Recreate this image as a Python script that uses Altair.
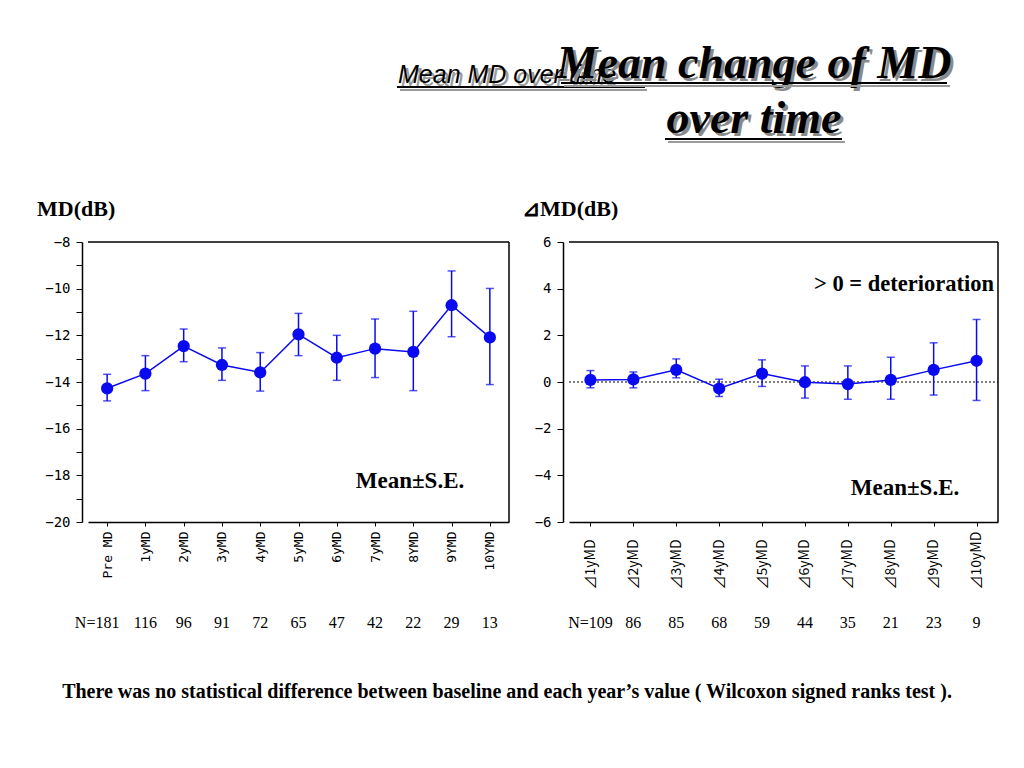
import altair as alt
import pandas as pd

# ---------------- data ----------------
left_cats = ["Pre MD", "1yMD", "2yMD", "3yMD", "4yMD", "5yMD", "6yMD", "7yMD", "8YMD", "9YMD", "10YMD"]
left_mean = [-14.27, -13.64, -12.46, -13.27, -13.59, -11.96, -12.96, -12.57, -12.71, -10.71, -12.09]
left_hi = [-13.67, -12.87, -11.73, -12.54, -12.74, -11.06, -12.00, -11.30, -10.97, -9.24, -9.99]
left_lo = [-14.81, -14.37, -13.13, -13.93, -14.39, -12.87, -13.93, -13.81, -14.37, -12.06, -14.11]
left_n = ["N=181", "116", "96", "91", "72", "65", "47", "42", "22", "29", "13"]

right_cats = ["⊿1yMD", "⊿2yMD", "⊿3yMD", "⊿4yMD", "⊿5yMD", "⊿6yMD", "⊿7yMD", "⊿8yMD", "⊿9yMD", "⊿10yMD"]
right_mean = [0.09, 0.11, 0.52, -0.28, 0.36, -0.01, -0.09, 0.09, 0.52, 0.91]
right_hi = [0.49, 0.43, 0.99, 0.12, 0.95, 0.69, 0.69, 1.06, 1.68, 2.68]
right_lo = [-0.25, -0.25, 0.18, -0.62, -0.19, -0.69, -0.74, -0.74, -0.56, -0.79]
right_n = ["N=109", "86", "85", "68", "59", "44", "35", "21", "23", "9"]

BLUE = "#0a0aee"
SERIF = "Liberation Serif"
TICKFONT = "DejaVu Sans Mono"
H = 280
W1, W2 = 421, 429

one = pd.DataFrame({"k": [0]})


def txt(x, y, text, size, font=SERIF, weight="bold", style="normal", align="left",
        baseline="middle", color="black"):
    return alt.Chart(one).mark_text(
        font=font, fontSize=size, fontWeight=weight, fontStyle=style, align=align,
        baseline=baseline, color=color
    ).encode(x=alt.value(x), y=alt.value(y), text=alt.value(text))


def hline(x1, x2, y, color="black", width=1.5, dash=None):
    kw = dict(color=color, strokeWidth=width)
    if dash:
        kw["strokeDash"] = dash
    return alt.Chart(one).mark_rule(**kw).encode(x=alt.value(x1), x2=alt.value(x2), y=alt.value(y))


def vline(x, y1, y2, color="black", width=1.5):
    return alt.Chart(one).mark_rule(color=color, strokeWidth=width).encode(
        x=alt.value(x), y=alt.value(y1), y2=alt.value(y2))


def panel(cats, mean, lo, hi, n, ydom, W, label_align, label_pad, first_dx, xfont, xsize):
    df = pd.DataFrame({"cat": cats, "mean": mean, "lo": lo, "hi": hi, "n": n})
    base = alt.Chart(df)
    xaxis = alt.Axis(
        title=None, labelAngle=-90, labelAlign=label_align, labelBaseline="middle",
        labelPadding=label_pad, tickSize=4, tickColor="black", domainColor="black",
        domainWidth=1.5, labelFont=xfont, labelFontSize=xsize, labelColor="black",
        grid=False,
    )
    x = alt.X("cat:N", sort=cats, scale=alt.Scale(type="point", padding=0.5), axis=xaxis)
    yaxis = alt.Axis(
        title=None, values=list(range(ydom[0], ydom[1] + 1)),
        labelExpr="datum.value % 2 == 0 ? datum.label : ''",
        offset=6, tickSize=6, labelPadding=6, tickColor="black", domainColor="black",
        domainWidth=1.5, labelFont=TICKFONT, labelFontSize=14, labelColor="black",
        grid=False,
    )
    ysc = alt.Scale(domain=list(ydom), nice=False, zero=False)

    def Y(f):
        return alt.Y(f, type="quantitative", scale=ysc, axis=yaxis)

    bars = base.mark_rule(color=BLUE, strokeWidth=1.5).encode(x=x, y=Y("lo"), y2="hi:Q")
    cap_lo = base.mark_tick(color=BLUE, size=8, thickness=1.5).encode(x=x, y=Y("lo"))
    cap_hi = base.mark_tick(color=BLUE, size=8, thickness=1.5).encode(x=x, y=Y("hi"))
    line = base.mark_line(color=BLUE, strokeWidth=1.5).encode(x=x, y=Y("mean"))
    pts = base.mark_circle(color=BLUE, size=150, opacity=1).encode(x=x, y=Y("mean"))
    n_first = base.transform_filter(alt.datum.cat == cats[0]).mark_text(
        font=SERIF, fontSize=16, dx=first_dx, color="black"
    ).encode(x=x, y=alt.value(381), text="n:N")
    n_rest = base.transform_filter(alt.datum.cat != cats[0]).mark_text(
        font=SERIF, fontSize=16, color="black"
    ).encode(x=x, y=alt.value(381), text="n:N")
    frame = [hline(0, W, 0), vline(W, 0, H)]
    return [bars, cap_lo, cap_hi, line, pts, n_first, n_rest] + frame


# ---------------- left panel ----------------
left_layers = panel(left_cats, left_mean, left_lo, left_hi, left_n, (-20, -8), W1,
                    "right", 5, -10, TICKFONT, 13)
left_deco = [
    # small title with shadow
    txt(313, -156, "Mean MD over time", 25, font="Liberation Sans", weight="normal",
        style="italic", baseline="alphabetic", color="#9a9a9a"),
    txt(310, -159, "Mean MD over time", 25, font="Liberation Sans", weight="normal",
        style="italic", baseline="alphabetic"),
    hline(312, 559, -152, color="#9a9a9a", width=2),
    hline(309, 557, -155, width=2),
    # big title with shadow
    txt(669, -161, "Mean change of MD", 46, style="italic", align="center",
        baseline="alphabetic", color="#8a8a8a"),
    txt(666, -164, "Mean change of MD", 46, style="italic", align="center",
        baseline="alphabetic"),
    txt(669, -106, "over time", 46, style="italic", align="center",
        baseline="alphabetic", color="#8a8a8a"),
    txt(666, -109, "over time", 46, style="italic", align="center",
        baseline="alphabetic"),
    hline(476, 862, -156, color="#9a9a9a", width=2),
    hline(473, 859, -159, width=2),
    hline(580, 757, -100, color="#9a9a9a", width=2),
    hline(577, 754, -103, width=2),
    # panel texts
    txt(-51, -33, "MD(dB)", 22),
    txt(322, 239, "Mean±S.E.", 23, align="center"),
    txt(419, 450, "There was no statistical difference between  baseline and each year’s value ( Wilcoxon signed ranks test ).",
        20, align="center"),
]
left = alt.layer(*(left_layers + left_deco)).properties(width=W1, height=H)

# ---------------- right panel ----------------
right_layers = panel(right_cats, right_mean, right_lo, right_hi, right_n, (-6, 6), W2,
                     "left", 63, 0, "Noto Sans CJK JP", 14)
zero = alt.Chart(one).mark_rule(color="black", strokeWidth=1.2, strokeDash=[2, 2]).encode(
    y=alt.datum(0, type="quantitative", scale=alt.Scale(domain=[-6, 6], nice=False, zero=False)),
    x=alt.value(0), x2=alt.value(W2))
right_deco = [
    txt(-47, -33, "⊿MD(dB)", 22),
    txt(425, 42, "> 0 = deterioration", 22.5, align="right"),
    txt(336, 246, "Mean±S.E.", 23, align="center"),
]
right = alt.layer(zero, *(right_layers + right_deco)).properties(width=W2, height=H)

chart = alt.hconcat(left, right, spacing=60, bounds="flush").properties(
    padding={"left": 29, "top": 33, "right": 5, "bottom": 5}
).configure_view(stroke=None)

chart.save("out.html", embed_options={"renderer": "svg", "actions": False})
